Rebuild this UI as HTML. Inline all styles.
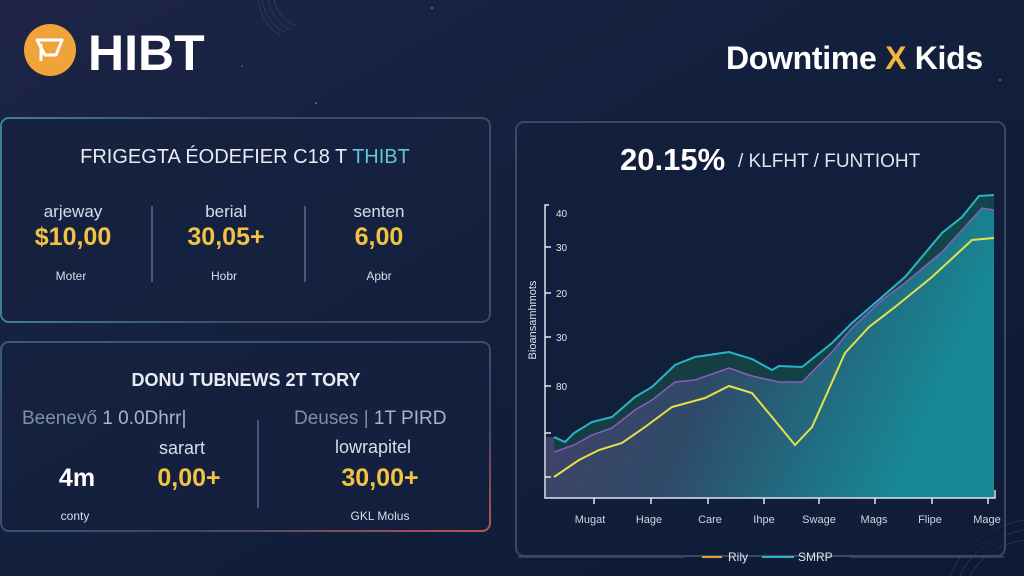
<!DOCTYPE html>
<html><head><meta charset="utf-8"><style>
html,body{margin:0;padding:0;width:1024px;height:576px;overflow:hidden;background:#0f1a33;font-family:"Liberation Sans",sans-serif}
</style></head><body>
<svg width="1024" height="576" viewBox="0 0 1024 576" xmlns="http://www.w3.org/2000/svg" font-family="Liberation Sans, sans-serif">
<defs>
<linearGradient id="bg" x1="0" y1="0" x2="1" y2="1">
<stop offset="0" stop-color="#1e2446"/><stop offset="0.4" stop-color="#13213f"/><stop offset="1" stop-color="#0e1a33"/></linearGradient>
<linearGradient id="fill" x1="0" y1="0" x2="1" y2="0.3">
<stop offset="0" stop-color="#4a3d66"/><stop offset="0.5" stop-color="#2f4a68"/><stop offset="1" stop-color="#168a96"/></linearGradient>
<linearGradient id="b1" x1="0" y1="0" x2="1" y2="0"><stop offset="0" stop-color="#3f7f9a"/><stop offset="0.5" stop-color="#3a4a66"/><stop offset="1" stop-color="#3f4b66"/></linearGradient>
<linearGradient id="b2" x1="0" y1="0" x2="1" y2="1"><stop offset="0" stop-color="#3a5a7a"/><stop offset="0.7" stop-color="#3a4a66"/><stop offset="1" stop-color="#c05050"/></linearGradient>
</defs>
<rect width="1024" height="576" fill="url(#bg)"/>
<g stroke="#4a5a80" stroke-width="0.6" fill="none" opacity="0.6">
<path d="M258 0 Q262 25 280 35 M262 0 Q266 22 284 32 M268 0 Q272 20 290 30 M274 0 Q278 18 296 26"/>
<path d="M950 576 Q970 530 1024 520 M960 576 Q978 538 1024 530 M970 576 Q986 546 1024 540"/>
</g>
<g fill="#c9a060" opacity="0.6"><circle cx="316" cy="103" r="1"/><circle cx="432" cy="8" r="1"/><circle cx="1000" cy="80" r="1"/><circle cx="242" cy="66" r="0.8"/></g>
<!-- header -->
<circle cx="50" cy="50" r="26" fill="#f0a33a"/>
<path d="M37 40 h25 l-6 15 h-11 z M41 44 v17" stroke="#fff" stroke-width="3" fill="none" stroke-linejoin="round"/>
<text x="88" y="70" font-size="50" font-weight="bold" fill="#fff">HIBT</text>
<text x="726" y="69" font-size="32" font-weight="bold" fill="#fff" letter-spacing="-0.3">Downtime <tspan fill="#f2b63a">X</tspan> Kids</text>
<!-- left top panel -->
<rect x="1" y="118" width="489" height="204" rx="8" fill="#15223f" fill-opacity="0.6" stroke="url(#b1)" stroke-width="2"/>
<text x="245" y="163" text-anchor="middle" font-size="20" fill="#e8ecf2">FRIGEGTA ÉODEFIER C18 T <tspan fill="#5ec8d8">THIBT</tspan></text>
<g text-anchor="middle">
<text x="73" y="217" font-size="17" fill="#d8dde8">arjeway</text>
<text x="73" y="245" font-size="25" font-weight="bold" fill="#f2c343">$10,00</text>
<text x="71" y="280" font-size="12" fill="#d8dde8">Moter</text>
<text x="226" y="217" font-size="17" fill="#d8dde8">berial</text>
<text x="226" y="245" font-size="25" font-weight="bold" fill="#f2c343">30,05+</text>
<text x="224" y="280" font-size="12" fill="#d8dde8">Hobr</text>
<text x="379" y="217" font-size="17" fill="#d8dde8">senten</text>
<text x="379" y="245" font-size="25" font-weight="bold" fill="#f2c343">6,00</text>
<text x="379" y="280" font-size="12" fill="#d8dde8">Apbr</text>
</g>
<line x1="152" y1="206" x2="152" y2="282" stroke="#4a5878" stroke-width="2"/>
<line x1="305" y1="206" x2="305" y2="282" stroke="#4a5878" stroke-width="2"/>
<!-- left bottom panel -->
<rect x="1" y="342" width="489" height="189" rx="8" fill="#15223f" fill-opacity="0.6" stroke="url(#b2)" stroke-width="2"/>
<text x="246" y="386" text-anchor="middle" font-size="18" font-weight="bold" fill="#e8ecf2">DONU TUBNEWS 2T TORY</text>
<text x="22" y="424" font-size="19" fill="#8090a8">Beenevő <tspan fill="#a8b4c8">1 0.0Dhrr|</tspan></text>
<text x="294" y="424" font-size="19" fill="#8090a8">Deuses | <tspan fill="#a8b4c8">1T PIRD</tspan></text>
<text x="182" y="454" text-anchor="middle" font-size="18" fill="#d8dde8">sarart</text>
<text x="373" y="453" text-anchor="middle" font-size="18" fill="#d8dde8">lowrapitel</text>
<text x="77" y="486" text-anchor="middle" font-size="25" font-weight="bold" fill="#fff">4m</text>
<text x="189" y="486" text-anchor="middle" font-size="25" font-weight="bold" fill="#f2c343">0,00+</text>
<text x="380" y="486" text-anchor="middle" font-size="25" font-weight="bold" fill="#f2c343">30,00+</text>
<text x="75" y="520" text-anchor="middle" font-size="12" fill="#d8dde8">conty</text>
<text x="380" y="520" text-anchor="middle" font-size="12" fill="#d8dde8">GKL Molus</text>
<line x1="258" y1="420" x2="258" y2="508" stroke="#4a5878" stroke-width="2"/>
<!-- right panel -->
<rect x="516" y="122" width="489" height="434" rx="8" fill="#13203c" fill-opacity="0.6" stroke="#3a4866" stroke-width="2"/>
<text x="620" y="170" font-size="31" font-weight="bold" fill="#fff">20.15%</text>
<text x="738" y="167" font-size="19" fill="#e0e4ec">/ KLFHT / FUNTIOHT</text>
<!-- chart fill -->
<path d="M546 437 L554 437 565 442 574 433 592 422 612 417 635 397 652 387 675 365 695 357 729 352 752 359 772 370 779 366 802 367 832 343 852 323 882 297 905 277 942 233 962 217 979 196 994 195 L994 498 L546 498 Z" fill="url(#fill)"/>
<path d="M554 437 565 442 574 433 592 422 612 417 635 397 652 387 675 365 695 357 729 352 752 359 772 370 779 366 802 367 832 343 852 323 882 297 905 277 942 233 962 217 979 196 994 195 L994 210 982 208 962 230 942 252 905 283 882 300 852 328 832 352 802 382 779 382 752 376 729 368 695 380 675 382 652 400 635 410 612 428 592 435 574 445 554 452 Z" fill="#113c3c" opacity="0.85"/>
<polyline points="554 452 574 445 592 435 612 428 635 410 652 400 675 382 695 380 729 368 752 376 779 382 802 382 832 352 852 328 882 300 905 283 942 252 962 230 982 208 994 210" fill="none" stroke="#8a5cc0" stroke-width="1.5"/>
<polyline points="554 437 565 442 574 433 592 422 612 417 635 397 652 387 675 365 695 357 729 352 752 359 772 370 779 366 802 367 832 343 852 323 882 297 905 277 942 233 962 217 979 196 994 195" fill="none" stroke="#2ab4c8" stroke-width="2"/>
<polyline points="554 477 579 460 599 450 622 443 645 427 672 407 705 398 729 386 752 393 772 417 795 445 812 427 845 353 869 327 895 307 932 277 972 240 994 238" fill="none" stroke="#e8e04a" stroke-width="2"/>
<!-- axes -->
<path d="M549 205 H545 V498 H995 V490" fill="none" stroke="#dfe4ec" stroke-width="1.5"/>
<g stroke="#dfe4ec" stroke-width="1.5">
<line x1="545" y1="247" x2="551" y2="247"/><line x1="545" y1="293" x2="551" y2="293"/><line x1="545" y1="337" x2="551" y2="337"/><line x1="545" y1="386" x2="551" y2="386"/><line x1="545" y1="433" x2="551" y2="433"/><line x1="545" y1="477" x2="551" y2="477"/>
<line x1="594" y1="498" x2="594" y2="504"/><line x1="651" y1="498" x2="651" y2="504"/><line x1="708" y1="498" x2="708" y2="504"/><line x1="764" y1="498" x2="764" y2="504"/><line x1="819" y1="498" x2="819" y2="504"/><line x1="875" y1="498" x2="875" y2="504"/><line x1="932" y1="498" x2="932" y2="504"/><line x1="988" y1="498" x2="988" y2="504"/>
</g>
<g font-size="10" fill="#dfe4ec">
<text x="556" y="217">40</text><text x="556" y="251">30</text><text x="556" y="297">20</text><text x="556" y="341">30</text><text x="556" y="390">80</text>
</g>
<text transform="translate(536 320) rotate(-90)" text-anchor="middle" font-size="11" fill="#dfe4ec">Bioansamhmots</text>
<g font-size="11" fill="#d0d6e0" text-anchor="middle">
<text x="590" y="523">Mugat</text><text x="649" y="523">Hage</text><text x="710" y="523">Care</text><text x="764" y="523">Ihpe</text><text x="819" y="523">Swage</text><text x="874" y="523">Mags</text><text x="930" y="523">Flipe</text><text x="987" y="523">Mage</text>
</g>
<!-- legend -->
<line x1="518" y1="557" x2="685" y2="557" stroke="#3a4866" stroke-width="1.5"/>
<line x1="850" y1="557" x2="1004" y2="557" stroke="#3a4866" stroke-width="1.5"/>
<line x1="702" y1="557" x2="722" y2="557" stroke="#e89a3a" stroke-width="2"/>
<text x="728" y="561" font-size="12" fill="#e0e4ec">Rily</text>
<line x1="762" y1="557" x2="794" y2="557" stroke="#2ab4c8" stroke-width="2"/>
<text x="798" y="561" font-size="12" fill="#e0e4ec">SMRP</text>
</svg>
</body></html>
